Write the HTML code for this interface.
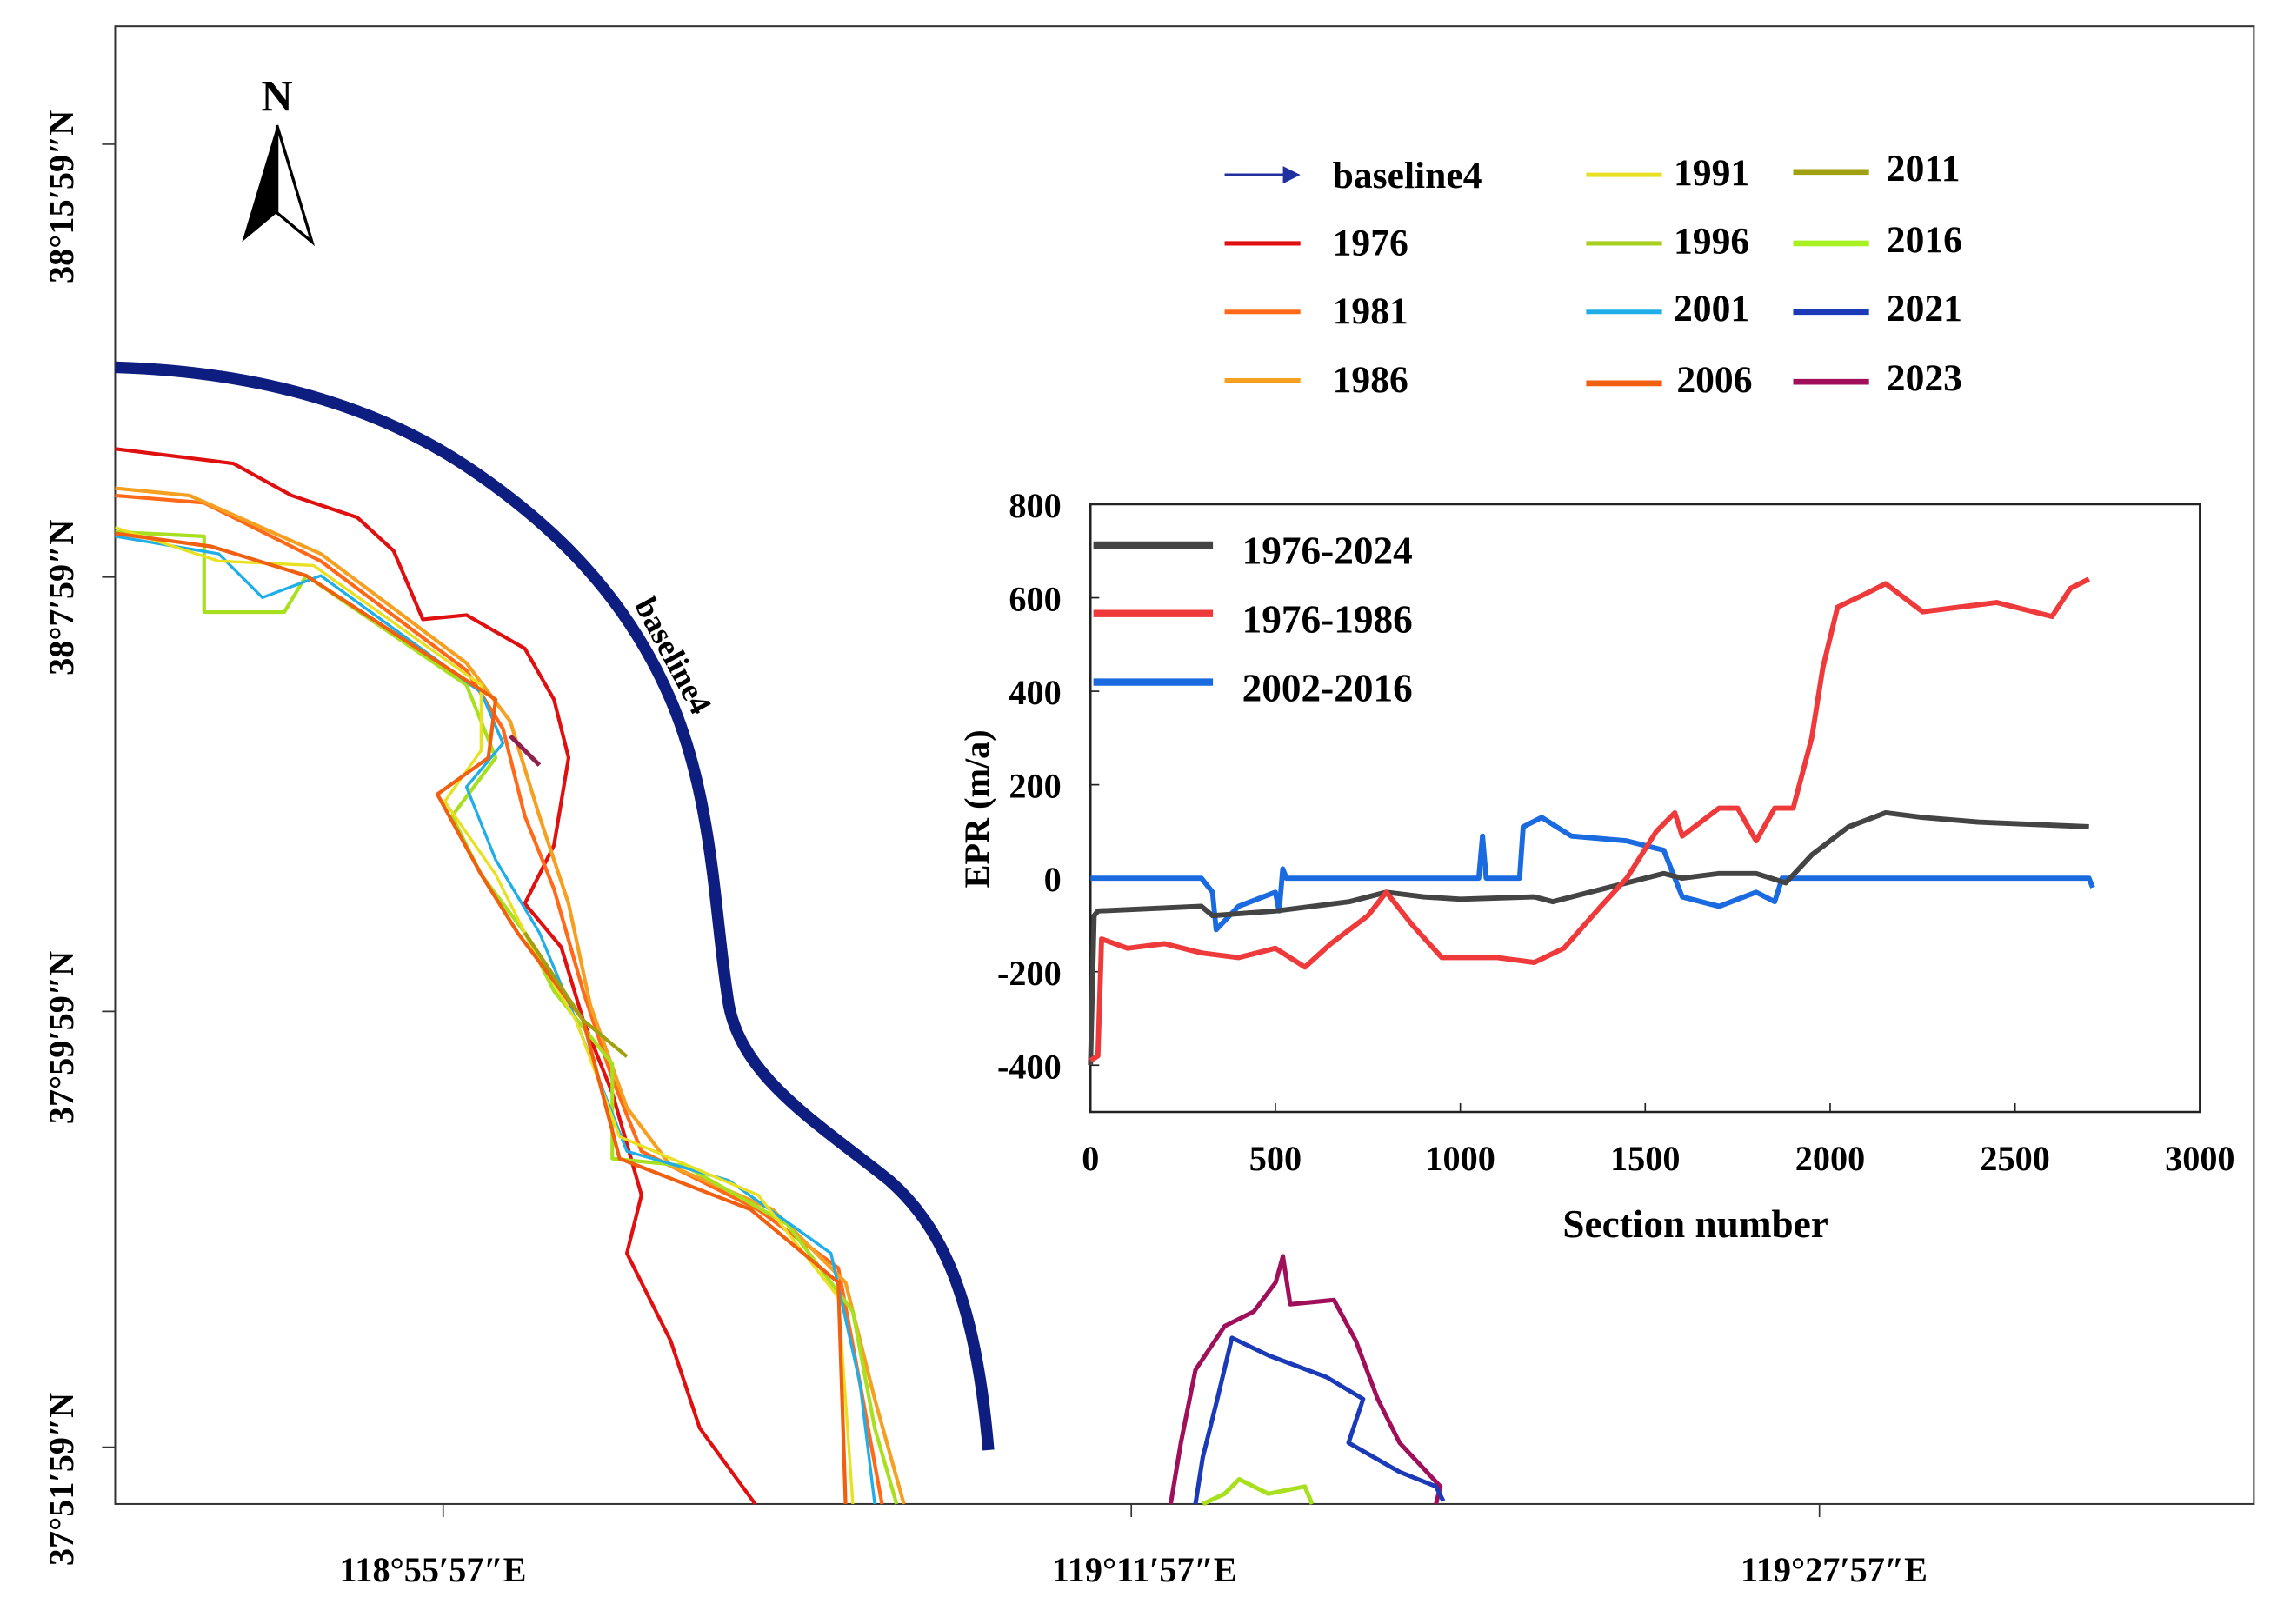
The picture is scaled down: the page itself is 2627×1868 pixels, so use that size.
<!DOCTYPE html>
<html><head><meta charset="utf-8"><style>
body{margin:0;background:#fff}
svg{display:block}
text{font-family:"Liberation Serif",serif;font-weight:bold}
</style></head><body>
<svg width="2627" height="1868" viewBox="0 0 1556 1106" preserveAspectRatio="none">
<rect x="0" y="0" width="1556" height="1106" fill="#fff"/>
<g transform="scale(0.9932,0.9925)">
<rect x="79" y="18" width="1467" height="1014" fill="none" stroke="#333" stroke-width="1.2"/>
<g font-size="24">
<text transform="translate(50,135) rotate(-90)" text-anchor="middle">38°15′59″N</text>
<text transform="translate(50,410) rotate(-90)" text-anchor="middle">38°7′59″N</text>
<text transform="translate(50,712) rotate(-90)" text-anchor="middle">37°59′59″N</text>
<text transform="translate(50,1015) rotate(-90)" text-anchor="middle">37°51′59″N</text>
<path d="M70 99h9M70 396h9M70 694h9M70 993h9" stroke="#333"/>
</g>
<g font-size="24">
<text x="297" y="1085" text-anchor="middle">118°55′57″E</text>
<text x="785" y="1085" text-anchor="middle">119°11′57″E</text>
<text x="1258" y="1085" text-anchor="middle">119°27′57″E</text>
<path d="M304 1032v9M776 1032v9M1248 1032v9" stroke="#333"/>
</g>
<g>
<text x="190" y="76" font-size="30" font-family="Liberation Sans" font-weight="normal" text-anchor="middle">N</text>
<path d="M190 86L166 166L190 146Z" fill="#000"/>
<path d="M190 86L214 166L190 146Z" fill="#fff" stroke="#000" stroke-width="2"/>
</g>
<g fill="none" stroke-linejoin="round">
<path d="M79 252C180 255 260 280 320 320C380 360 430 410 460 480C490 550 490 630 500 690C510 740 560 770 610 810C650 845 670 900 678 995" stroke="#0e1d80" stroke-width="8"/>
<path d="M79 308L160 318L200 340L245 355L270 378L290 425L320 422L360 445L380 480L390 520L380 580L360 620L385 650L400 700L420 750L440 820L430 860L460 920L480 980L518 1032" stroke="#e01010" stroke-width="2.5"/>
<path d="M79 340L140 345L220 385L320 460L345 500L360 560L380 610L400 680L420 740L440 790L520 830L575 870L590 950L605 1032" stroke="#ff6a1a" stroke-width="2.5"/>
<path d="M79 335L130 340L220 380L320 455L350 495L370 560L390 620L405 690L430 760L460 800L530 830L580 880L600 960L620 1032" stroke="#f5a020" stroke-width="2.5"/>
<path d="M79 365L140 368L140 420L195 420L210 395L320 470L340 520L310 560L330 600L360 640L380 680L420 730L420 795L470 800L540 840L585 900L600 980L615 1032" stroke="#a8e020" stroke-width="2.5"/>
<path d="M79 368L150 380L180 410L220 395L330 475L345 510L320 540L340 590L370 640L395 700L430 790L500 810L570 860L590 950L600 1032" stroke="#20aee8" stroke-width="2"/>
<path d="M79 362L150 385L215 388L330 470L330 515L305 550L340 600L365 650L395 700L425 780L520 820L575 890L585 1032" stroke="#e8e020" stroke-width="2"/>
<path d="M79 366L145 375L210 395L340 480L335 520L300 545L330 600L355 640L400 700L425 795L515 830L575 880L580 1032" stroke="#f06010" stroke-width="2.5"/>
<path d="M360 640L400 700L430 725" stroke="#a0a010" stroke-width="2.5"/>
<path d="M350 505L370 525" stroke="#902050" stroke-width="3"/>
<path d="M803 1032L810 990L820 940L840 910L860 900L875 880L880 862L885 895L915 892L930 920L945 960L960 990L988 1020L985 1032" stroke="#a0105a" stroke-width="3"/>
<path d="M820 1032L825 1000L835 960L845 918L870 930L910 945L935 960L925 990L960 1010L985 1020L990 1030" stroke="#1a3ab8" stroke-width="3"/>
<path d="M825 1032L840 1025L850 1015L870 1025L895 1020L900 1032" stroke="#a8e020" stroke-width="3"/>
</g>
<text transform="translate(435,415) rotate(62)" font-size="22">baseline4</text>
<g font-size="26">
<path d="M840 120h50" stroke="#2030a0" stroke-width="2"/><path d="M880 114l12 6-12 6z" fill="#2030a0"/>
<text x="914" y="129">baseline4</text>
<path d="M840 167h52" stroke="#e01010" stroke-width="3"/><text x="914" y="175">1976</text>
<path d="M840 214h52" stroke="#ff6a1a" stroke-width="3"/><text x="914" y="222">1981</text>
<path d="M840 261h52" stroke="#f5a020" stroke-width="3"/><text x="914" y="269">1986</text>
<path d="M1088 120h52" stroke="#e8e020" stroke-width="3"/><text x="1148" y="127">1991</text>
<path d="M1088 167h52" stroke="#a8d020" stroke-width="3"/><text x="1148" y="174">1996</text>
<path d="M1088 214h52" stroke="#20aee8" stroke-width="3"/><text x="1148" y="220">2001</text>
<path d="M1088 263h52" stroke="#f06010" stroke-width="4"/><text x="1150" y="269">2006</text>
<path d="M1230 118h52" stroke="#a0a010" stroke-width="4"/><text x="1294" y="124">2011</text>
<path d="M1230 167h52" stroke="#a8f020" stroke-width="4"/><text x="1294" y="173">2016</text>
<path d="M1230 214h52" stroke="#1a3ab8" stroke-width="4"/><text x="1294" y="220">2021</text>
<path d="M1230 262h52" stroke="#a0105a" stroke-width="4"/><text x="1294" y="268">2023</text>
</g>
<g id="inset"></g>
</g>
</svg>
<script>
const xTicks=[0,500,1000,1500,2000,2500,3000];
const yTicks=[800,600,400,200,0,-200,-400];
const seriesNames=["1976-2024","1976-1986","2002-2016"];
const blackX=[0,10,20,300,330,500,700,800,900,1000,1200,1250,1400,1500,1550,1600,1700,1800,1880,1950,2050,2150,2250,2400,2700];
const blackY=[-400,-80,-70,-60,-80,-70,-50,-30,-40,-45,-40,-50,-20,0,10,0,10,10,-10,50,110,140,130,120,110];
const redX=[0,20,30,100,200,300,400,500,580,650,750,800,870,950,1100,1200,1280,1380,1450,1530,1580,1600,1700,1750,1800,1850,1900,1950,1980,2020,2100,2150,2250,2350,2450,2550,2600,2650,2700];
const redY=[-390,-380,-130,-150,-140,-160,-170,-150,-190,-140,-80,-30,-100,-170,-170,-180,-150,-60,0,100,140,90,150,150,80,150,150,300,450,580,610,630,570,580,590,570,560,620,640];
const blueX=[0,300,330,340,400,500,510,520,530,1050,1060,1070,1160,1170,1220,1300,1450,1550,1600,1700,1800,1850,1870,2700,2710];
const blueY=[0,0,-30,-110,-60,-30,-70,20,0,0,90,0,0,110,130,90,80,60,-40,-60,-30,-50,0,0,-20];
const NS="http://www.w3.org/2000/svg";
const g=document.getElementById('inset');
const X0=748,X1=1509,Y0=346,Y1=763;
const sx=v=>X0+(v/3000)*(X1-X0);
const sy=v=>Y0+(800-v)/1300*(Y1-Y0);
function mk(tag,a,parent){const e=document.createElementNS(NS,tag);for(const k in a)e.setAttribute(k,a[k]);(parent||g).appendChild(e);return e;}
const frame=mk('rect',{x:X0,y:Y0,width:X1-X0,height:Y1-Y0,fill:'#fff',stroke:'#222','stroke-width':1.5});


xTicks.forEach(t=>{
 const tx=mk('text',{x:sx(t),y:Y1+40,'text-anchor':'middle','font-size':24,'font-family':'Liberation Sans','font-weight':'normal'});
 tx.textContent=t;
 
 
 mk('line',{x1:sx(t),x2:sx(t),y1:Y1,y2:Y1-6,stroke:'#222'});
});
yTicks.forEach(t=>{
 const tx=mk('text',{x:X0-20,y:sy(t)+9,'text-anchor':'end','font-size':24,'font-family':'Liberation Sans','font-weight':'normal'});
 tx.textContent=t;
 
 
 mk('line',{x1:X0,x2:X0+6,y1:sy(t),y2:sy(t),stroke:'#222'});
});
const xt=mk('text',{x:1163,y:849,'text-anchor':'middle','font-size':27});
xt.textContent='Section number';


const yt=mk('text',{transform:'translate(678,555) rotate(-90)','text-anchor':'middle','font-size':24,'font-family':'Liberation Sans','font-weight':'normal'});
yt.textContent='EPR (m/a)';


function line(xs,ys,color,name){
 const d=xs.map((x,i)=>(i?'L':'M')+sx(x).toFixed(1)+' '+sy(ys[i]).toFixed(1)).join('');
 const p=mk('path',{d:d,fill:'none',stroke:color,'stroke-width':3.5,'stroke-linejoin':'round'});
 
 
}
line(blueX,blueY,'#1a6ae0','series-2002-2016');
line(blackX,blackY,'#444','series-1976-2024');
line(redX,redY,'#ee3a3a','series-1976-1986');
const lc=['#444','#ee3a3a','#1a6ae0'];const ly=[374,421,468];
seriesNames.forEach((n,i)=>{
 const l=mk('line',{x1:750,x2:832,y1:ly[i],y2:ly[i],stroke:lc[i],'stroke-width':5});
 
 
 const t=mk('text',{x:852,y:ly[i]+13,'font-size':27});
 t.textContent=n;
 
 
});
</script>
</body></html>
